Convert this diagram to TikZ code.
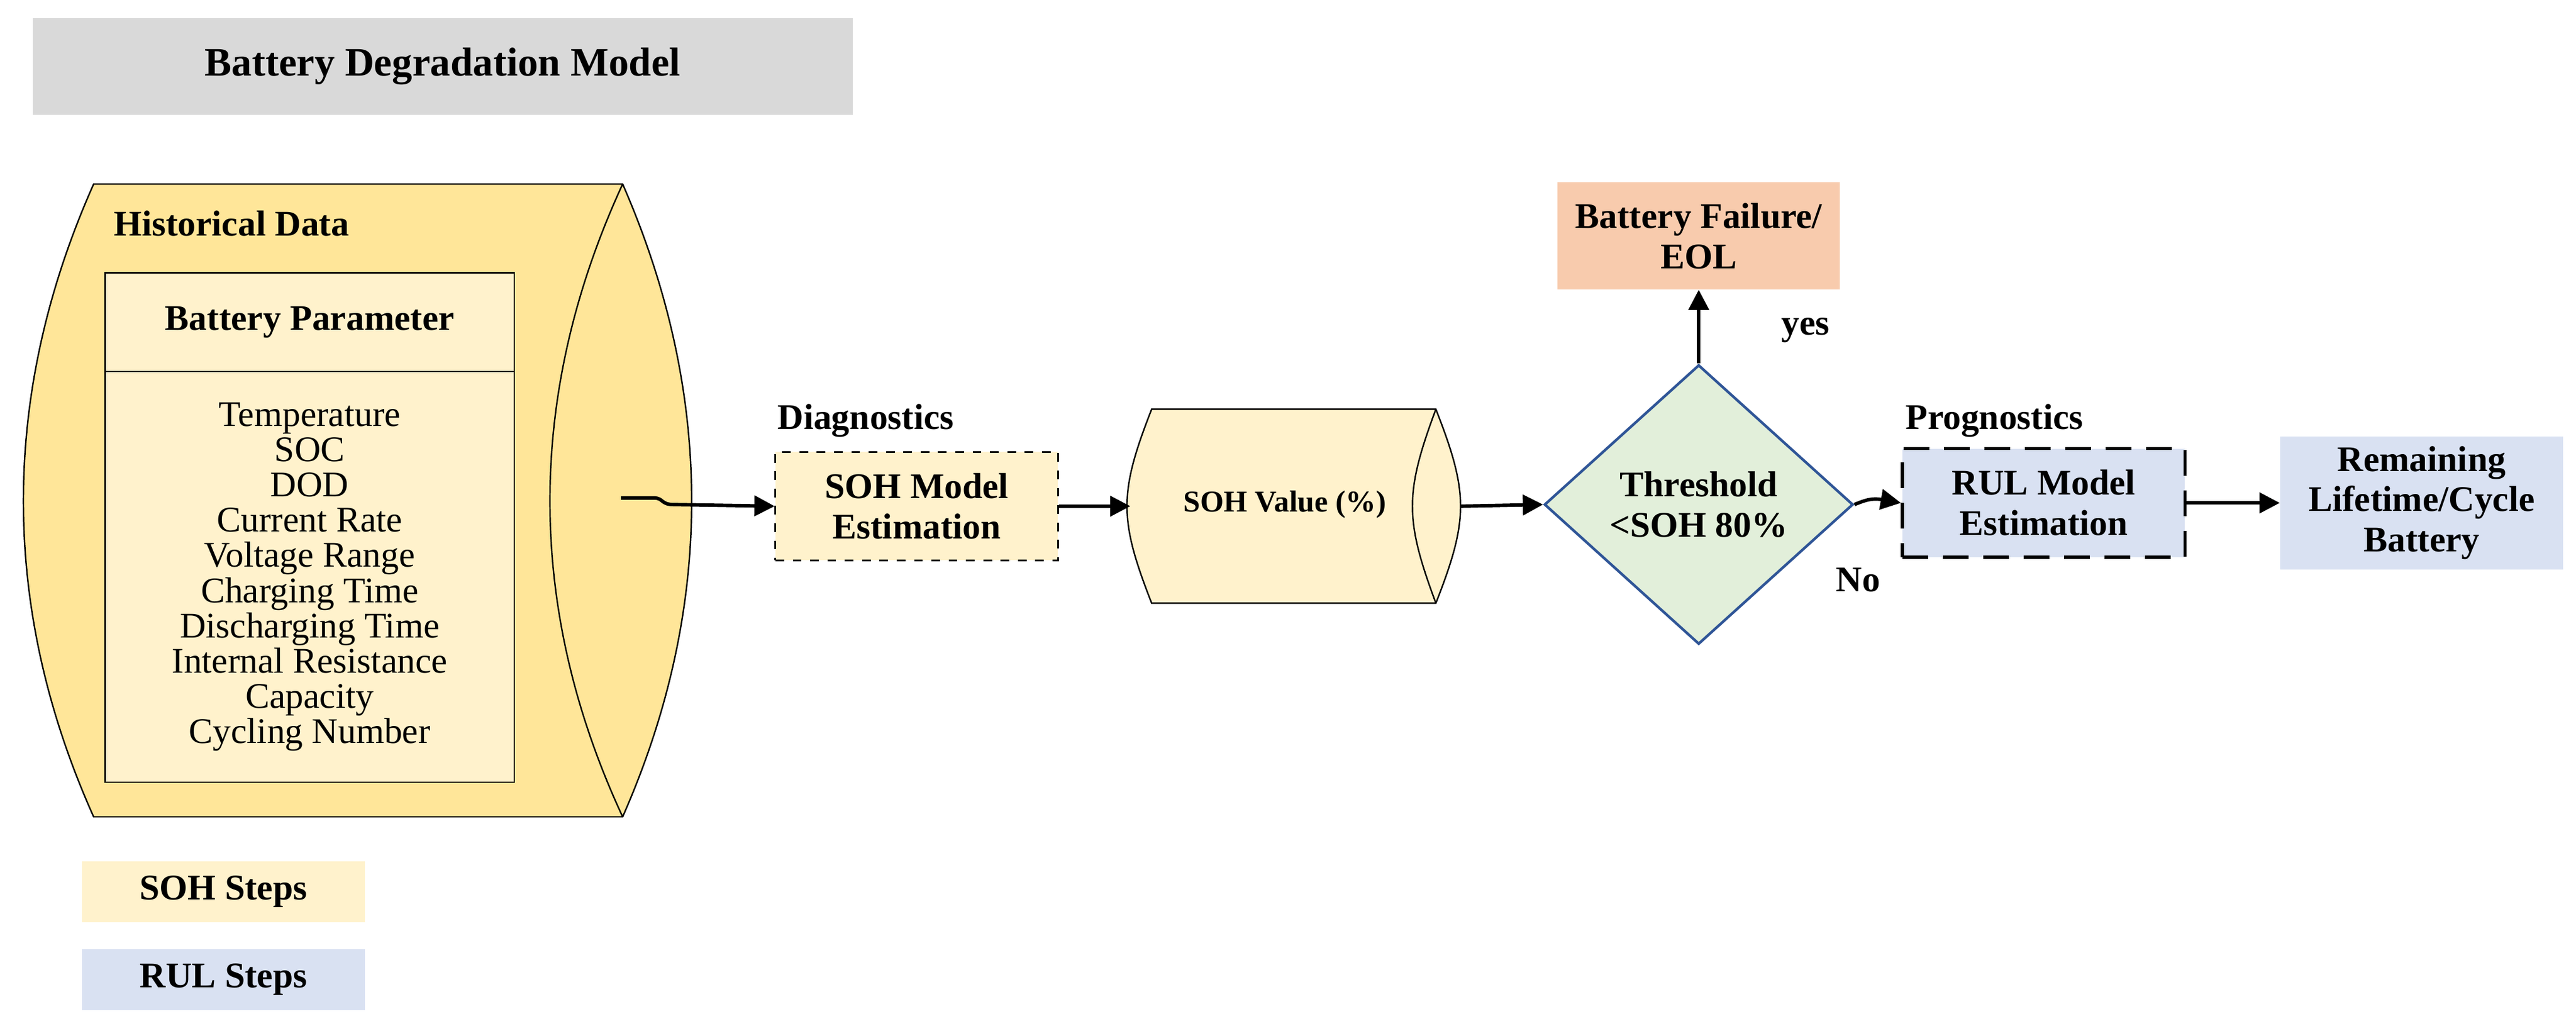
\documentclass[tikz,border=0pt]{standalone}
\usepackage{fontspec}
\setmainfont{Liberation Serif}
\usetikzlibrary{arrows.meta,shapes.geometric}
\definecolor{ttl}{HTML}{D9D9D9}
\definecolor{dy}{HTML}{FFE699}
\definecolor{ly}{HTML}{FFF2CC}
\definecolor{lb}{HTML}{D9E1F2}
\definecolor{lg}{HTML}{E2EFDA}
\definecolor{or}{HTML}{F8CBAD}
\definecolor{db}{HTML}{2F5597}
\begin{document}
\begin{tikzpicture}[x=0.02cm,y=-0.02cm,
  lbl/.style={font=\fontsize{12.5}{14}\selectfont\bfseries},
  box/.style={draw,minimum width=3.44cm,minimum height=1.32cm,align=center,font=\fontsize{12.5}{14}\selectfont\bfseries,line width=0.6pt},
  arr/.style={-{Triangle[length=7pt,width=7pt]},line width=1.2pt}]
\useasboundingbox (0,0) rectangle (1568,624);
% title
\node[fill=ttl,minimum width=9.98cm,minimum height=1.18cm,font=\fontsize{14}{16}\selectfont\bfseries] (title) at (269.5,40.5) {Battery Degradation Model};
% big cylinder
\draw[fill=dy,line width=0.5pt] (57,112) -- (379,112) .. controls (435,240) and (435,370) .. (379,497) -- (57,497) .. controls (0,370) and (0,240) .. (57,112) -- cycle;
\draw[line width=0.5pt] (379,112) .. controls (320,240) and (320,370) .. (379,497);
\node[lbl,anchor=west] (hist) at (63,136) {Historical Data};
\draw[fill=ly,line width=0.5pt] (64,166) rectangle (313,476);
\draw[line width=0.5pt] (64,226) -- (313,226);
\node[lbl] (bp) at (188.5,196) {Battery Parameter};
\node[align=center,font=\fontsize{12.5}{12.2}\selectfont] (list) at (188.5,351) {Temperature\\SOC\\DOD\\Current Rate\\Voltage Range\\Charging Time\\Discharging Time\\Internal Resistance\\Capacity\\Cycling Number};
\coordinate (hs) at (378,303);
% SOH box
\node[box,fill=ly,dashed] (soh) at (558,308) {SOH Model\\Estimation};
\node[lbl] (diag) at (527,256) {Diagnostics};
\draw[arr] (hs) -- (398,303) .. controls (404,303) and (402,307) .. (410,307) -- (soh.west);
% SOH value cylinder
\draw[fill=ly,line width=0.5pt] (701,249) -- (874,249) .. controls (894,300) and (894,316) .. (874,367) -- (701,367) .. controls (681,316) and (681,300) .. (701,249) -- cycle;
\draw[line width=0.5pt] (874,249) .. controls (855,300) and (855,316) .. (874,367);
\coordinate (sv) at (688,308);
\coordinate (svr) at (889,308);
\node[font=\fontsize{10.5}{12}\selectfont\bfseries] (svt) at (782,307) {SOH Value (\%)};
\draw[arr] (soh.east) -- (sv);
% diamond
\node[diamond,draw=db,fill=lg,line width=0.9pt,minimum width=3.76cm,minimum height=3.4cm,inner sep=0pt,align=center,font=\fontsize{12.5}{14}\selectfont\bfseries] (th) at (1034,307) {Threshold\\<SOH 80\%};
\draw[arr] (svr) -- (th.west);
% failure
\node[fill=or,minimum width=3.44cm,minimum height=1.3cm,align=center,font=\fontsize{12.5}{14}\selectfont\bfseries] (fail) at (1034,143.5) {Battery Failure/\\EOL};
\draw[arr] (th.north) -- (fail.south);
\node[lbl] (yes) at (1099,201) {yes};
% RUL
\node[box,fill=lb,dashed,line width=1.1pt,dash pattern=on 9pt off 5pt] (rul) at (1244,306) {RUL Model\\Estimation};
\node[lbl] (prog) at (1214,256) {Prognostics};
\node[lbl] (no) at (1131,353) {No};
\draw[arr] (th.east) .. controls (1136,304) and (1140,303) .. (rul.west);
\node[fill=lb,minimum width=3.44cm,minimum height=1.56cm,align=center,font=\fontsize{12.5}{14}\selectfont\bfseries] (rem) at (1474,306) {Remaining\\Lifetime/Cycle\\Battery};
\draw[arr] (rul.east) -- (rem.west);
% legend
\node[fill=ly,minimum width=3.44cm,minimum height=0.74cm,lbl] (leg1) at (136,542.5) {SOH Steps};
\node[fill=lb,minimum width=3.44cm,minimum height=0.74cm,lbl] (leg2) at (136,596) {RUL Steps};
\end{tikzpicture}
\end{document}
